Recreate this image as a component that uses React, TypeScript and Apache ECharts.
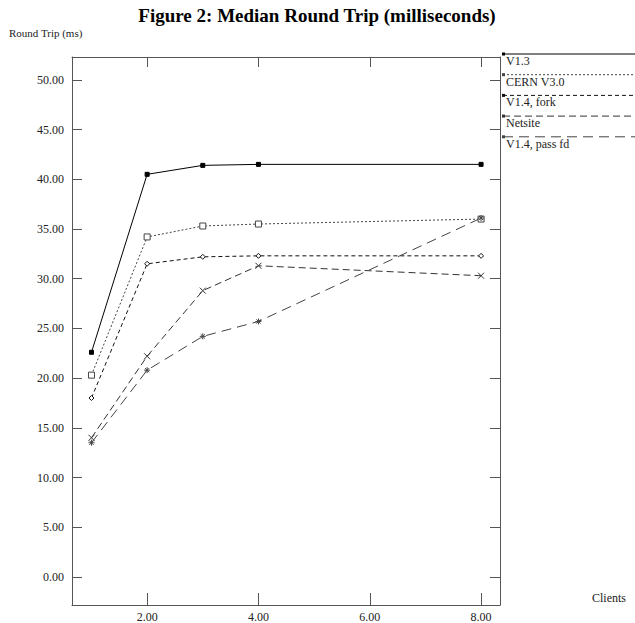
import React, { useEffect, useRef } from "react";
import * as echarts from "echarts";

const clients = [1, 2, 3, 4, 8];
const seriesNames = ["V1.3", "CERN V3.0", "V1.4, fork", "Netsite", "V1.4, pass fd"];
const v13 = [22.6, 40.5, 41.4, 41.5, 41.5];
const cernV30 = [20.3, 34.2, 35.3, 35.5, 36.0];
const v14Fork = [18.0, 31.5, 32.2, 32.3, 32.3];
const netsite = [14.0, 22.2, 28.8, 31.3, 30.3];
const v14PassFd = [13.5, 20.8, 24.2, 25.7, 36.1];
const yTicks = [0, 5, 10, 15, 20, 25, 30, 35, 40, 45, 50];
const xTicks = [2, 4, 6, 8];

const FONT = "Liberation Serif";
const AXIS_COLOR = "#555";

const xMark = "path://M0,0L10,10M10,0L0,10";
const starMark = "path://M5,0L5,10M0,5L10,5M1.5,1.5L8.5,8.5M8.5,1.5L1.5,8.5";

const styles = [
  { color: "#000", dash: "solid" as any, symbol: "rect", size: 4, fill: "#000" },
  { color: "#444", dash: [2, 2], symbol: "rect", size: 6, fill: "#fff" },
  { color: "#111", dash: [4, 3], symbol: "diamond", size: 5, fill: "#fff" },
  { color: "#333", dash: [7, 4], symbol: xMark, size: 6, fill: "none" },
  { color: "#444", dash: [10, 6], symbol: starMark, size: 6, fill: "none" },
];

const allData = [v13, cernV30, v14Fork, netsite, v14PassFd];

export default function App() {
  const ref = useRef<HTMLDivElement>(null);
  useEffect(() => {
    document.body.style.margin = "0";
    const chart = echarts.init(ref.current!, null, { renderer: "svg" });
    const series = seriesNames.map((name, i) => ({
      name,
      type: "line",
      data: clients.map((c, j) => [c, allData[i][j]]),
      symbol: styles[i].symbol,
      symbolSize: styles[i].size,
      showAllSymbol: true,
      lineStyle: { color: styles[i].color, width: 1, type: styles[i].dash },
      itemStyle: {
        color: styles[i].fill,
        borderColor: styles[i].color,
        borderWidth: 1,
      },
      emphasis: { disabled: true },
    }));

    const legendGraphics: any[] = [];
    seriesNames.forEach((name, i) => {
      const ly = 54 + 20.7 * i;
      legendGraphics.push({
        type: "line",
        shape: { x1: 503, y1: ly, x2: 635, y2: ly },
        style: { stroke: styles[i].color, lineWidth: 1, lineDash: Array.isArray(styles[i].dash) ? styles[i].dash : null },
      });
      legendGraphics.push({
        type: "rect",
        shape: { x: 502, y: ly - 1.5, width: 3, height: 3 },
        style: { fill: styles[i].color },
      });
      legendGraphics.push({
        type: "text",
        x: 506,
        y: ly + 7,
        style: {
          text: name,
          font: `12px '${FONT}'`,
          fill: "#222",
          textAlign: "left",
          textVerticalAlign: "middle",
        },
      });
    });

    chart.setOption({
      animation: false,
      backgroundColor: "#fff",
      title: {
        text: "Figure 2: Median Round Trip (milliseconds)",
        left: 312,
        textAlign: "center",
        top: 1,
        textStyle: { fontFamily: FONT, fontWeight: "bold", fontSize: 19, color: "#000" },
      },
      grid: { left: 72, right: 135, top: 57, bottom: 17 },
      xAxis: [
        {
          type: "value",
          position: "bottom",
          min: 0.65,
          max: 8.34,
          axisLine: { show: true, onZero: false, lineStyle: { color: AXIS_COLOR } },
          axisTick: { show: true, inside: true, length: 12, customValues: xTicks, lineStyle: { color: AXIS_COLOR } },
          axisLabel: {
            customValues: xTicks,
            formatter: (v: number) => v.toFixed(2),
            fontFamily: FONT,
            fontSize: 12,
            color: "#222",
            margin: 6,
          },
          splitLine: { show: false },
        },
        {
          type: "value",
          position: "top",
          min: 0.65,
          max: 8.34,
          axisLine: { show: true, onZero: false, lineStyle: { color: AXIS_COLOR } },
          axisTick: { show: true, inside: true, length: 10, customValues: xTicks, lineStyle: { color: AXIS_COLOR } },
          axisLabel: { show: false },
          splitLine: { show: false },
        },
      ],
      yAxis: [
        {
          type: "value",
          position: "left",
          min: -2.82,
          max: 52.3,
          axisLine: { show: true, onZero: false, lineStyle: { color: AXIS_COLOR } },
          axisTick: { show: true, inside: true, length: 10, customValues: yTicks, lineStyle: { color: AXIS_COLOR } },
          axisLabel: {
            customValues: yTicks,
            formatter: (v: number) => v.toFixed(2),
            fontFamily: FONT,
            fontSize: 12,
            color: "#222",
            margin: 8,
          },
          splitLine: { show: false },
        },
        {
          type: "value",
          position: "right",
          min: -2.82,
          max: 52.3,
          axisLine: { show: true, onZero: false, lineStyle: { color: AXIS_COLOR } },
          axisTick: { show: true, inside: true, length: 10, customValues: yTicks, lineStyle: { color: AXIS_COLOR } },
          axisLabel: { show: false },
          splitLine: { show: false },
        },
      ],
      series,
      graphic: [
        {
          type: "text",
          x: 9,
          y: 33,
          style: {
            text: "Round Trip (ms)",
            font: `11px '${FONT}'`,
            fill: "#222",
            textVerticalAlign: "middle",
          },
        },
        {
          type: "text",
          x: 592,
          y: 598,
          style: {
            text: "Clients",
            font: `12px '${FONT}'`,
            fill: "#222",
            textVerticalAlign: "middle",
          },
        },
        ...legendGraphics,
      ],
    });
    return () => chart.dispose();
  }, []);
  return <div ref={ref} style={{ width: 635, height: 623 }} />;
}
